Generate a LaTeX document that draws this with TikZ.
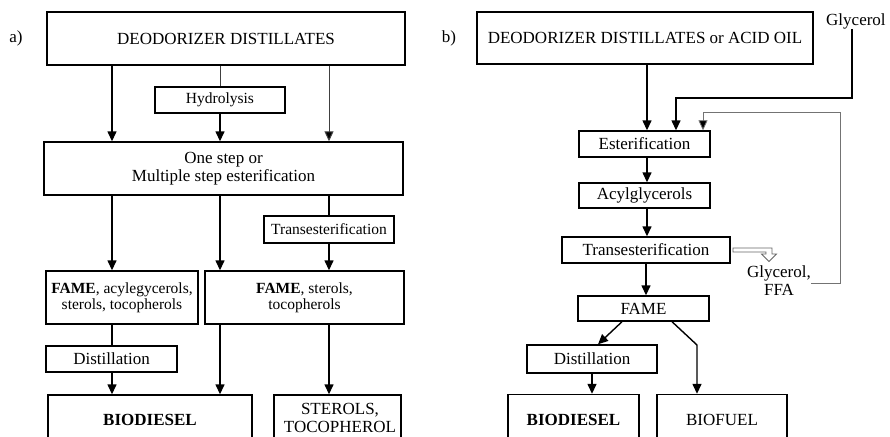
\documentclass[tikz,border=0pt]{standalone}
\usepackage{fontspec}
\setmainfont{Liberation Serif}
\usetikzlibrary{arrows.meta}
\begin{document}
\begin{tikzpicture}[x=1pt,y=-1pt,
  box/.style={draw, line width=1.4pt, inner sep=0pt, align=center, font=\fontsize{17}{18}\selectfont},
  sbox/.style={box, font=\fontsize{15.5}{16}\selectfont},
  lbl/.style={inner sep=0pt, align=center, font=\fontsize{17}{18}\selectfont},
  arr/.style={line width=1.4pt, -{Triangle[length=10pt,width=9pt]}},
  ln/.style={line width=1.4pt},
  garr/.style={line width=1pt, draw=black!75, -{Triangle[length=10pt,width=9pt,fill=black]}},
  gln/.style={line width=1pt, draw=black!75},
  rec/.style={line width=0.8pt, draw=black!55, -{Triangle[length=10pt,width=9pt,fill=black]}}
]
\clip (0,0) rectangle (890,436);
\fill[white] (0,0) rectangle (890,436);

% ---------- panel a ----------
\node[lbl] (la) at (16,38) {a)};
\node[box, minimum width=358pt, minimum height=53pt] (A1) at (226,38.5) {DEODORIZER DISTILLATES};
\node[sbox, minimum width=130pt, minimum height=26pt] (Hyd) at (220,100) {Hydrolysis};
\node[box, minimum width=359pt, minimum height=53pt] (One) at (223.5,168.5) {One step or\\Multiple step esterification};
\node[sbox, minimum width=130pt, minimum height=27pt] (TrA) at (329,229.5) {Transesterification};
\node[sbox, minimum width=152pt, minimum height=53pt] (FA1) at (122,297.5) {\textbf{FAME}, acylegycerols,\\sterols, tocopherols};
\node[sbox, minimum width=199pt, minimum height=53pt] (FA2) at (304.5,297.5) {\textbf{FAME}, sterols,\\tocopherols};
\node[box, minimum width=131pt, minimum height=26pt] (DiA) at (111.5,359) {Distillation};
\node[box, minimum width=204pt, minimum height=50pt] (BioA) at (150,420) {\textbf{BIODIESEL}};
\node[box, minimum width=127pt, minimum height=45pt] (Ster) at (337.5,417.5) {\hspace*{5pt}STEROLS,\\\hspace*{5pt}TOCOPHEROL};

\coordinate (xa) at (112,0);
\draw[arr] (A1.south -| xa) -- (One.north -| xa);
\draw[gln] (A1.south -| Hyd) -- (Hyd.north);
\draw[arr] (Hyd.south) -- (One.north -| Hyd);
\draw[garr] (A1.south -| TrA) -- (One.north -| TrA);
\draw[arr] (One.south -| xa) -- (FA1.north -| xa);
\draw[arr] (One.south -| Hyd) -- (FA2.north -| Hyd);
\draw[ln] (One.south -| TrA) -- (TrA.north);
\draw[arr] (TrA.south) -- (FA2.north -| TrA);
\draw[ln] (FA1.south -| xa) -- (DiA.north -| xa);
\draw[arr] (DiA.south -| xa) -- (BioA.north -| xa);
\draw[arr] (FA2.south -| Hyd) -- (BioA.north -| Hyd);
\draw[arr] (FA2.south -| TrA) -- (Ster.north -| TrA);

% ---------- panel b ----------
\node[lbl] (lb) at (449,38) {b)};
\node[box, minimum width=336pt, minimum height=52pt] (B1) at (645,38) {DEODORIZER DISTILLATES or ACID OIL};
\node[lbl, anchor=west] (Gly) at (826,21) {Glycerol};
\node[box, minimum width=131pt, minimum height=26pt] (Est) at (644.5,144) {Esterification};
\node[box, minimum width=131pt, minimum height=25pt] (Acy) at (644.5,195.5) {Acylglycerols};
\node[box, minimum width=168pt, minimum height=26pt] (TrB) at (646,250) {Transesterification};
\node[lbl] (GF) at (779,281) {Glycerol,\\FFA};
\node[box, minimum width=131pt, minimum height=25pt] (FAME) at (643.5,308.5) {FAME};
\node[box, minimum width=130pt, minimum height=28pt] (DiB) at (592,359) {Distillation};
\node[box, minimum width=131pt, minimum height=50pt] (BioB) at (573.5,419.5) {\textbf{BIODIESEL}};
\node[box, minimum width=130pt, minimum height=50pt] (BioF) at (722,419.5) {BIOFUEL};

\coordinate (xb) at (647,0);
\coordinate (g1) at (852,98);
\coordinate (g2) at (676,98);
\coordinate (r1) at (840,283);
\coordinate (r2) at (840,112);
\coordinate (r3) at (703,112);
\coordinate (f1) at (622,0);
\coordinate (f2) at (598,0);
\coordinate (h1) at (672,0);
\coordinate (h2) at (697,345);

\draw[arr] (B1.south -| xb) -- (Est.north -| xb);
\draw[arr] (Gly.south -| g1) -- (g1) -- (g2) -- (Est.north -| g2);
\draw[rec] (GF.east |- r1) -- (r1) -- (r2) -- (r3) -- (Est.north -| r3);
\draw[arr] (Est.south -| xb) -- (Acy.north -| xb);
\draw[arr] (Acy.south -| xb) -- (TrB.north -| xb);
\draw[arr] (TrB.south) -- (FAME.north -| TrB);
\draw[arr] (FAME.south -| f1) -- (DiB.north -| f2);
\draw[arr] (DiB.south) -- (BioB.north -| DiB);
\draw[arr] (FAME.south -| h1) -- (h2) -- (BioF.north -| h2);

% hollow arrow from Transesterification
\coordinate (t0) at (733,248);
\coordinate (t1) at (733,252);
\draw[line width=0.8pt, draw=black!60]
  (t0) -- (772,248) -- (772,254) -- (776.5,254) -- (769,261.5)
  -- (761.5,254) -- (766,254) -- (766,252) -- (t1) -- cycle;
\end{tikzpicture}
\end{document}
